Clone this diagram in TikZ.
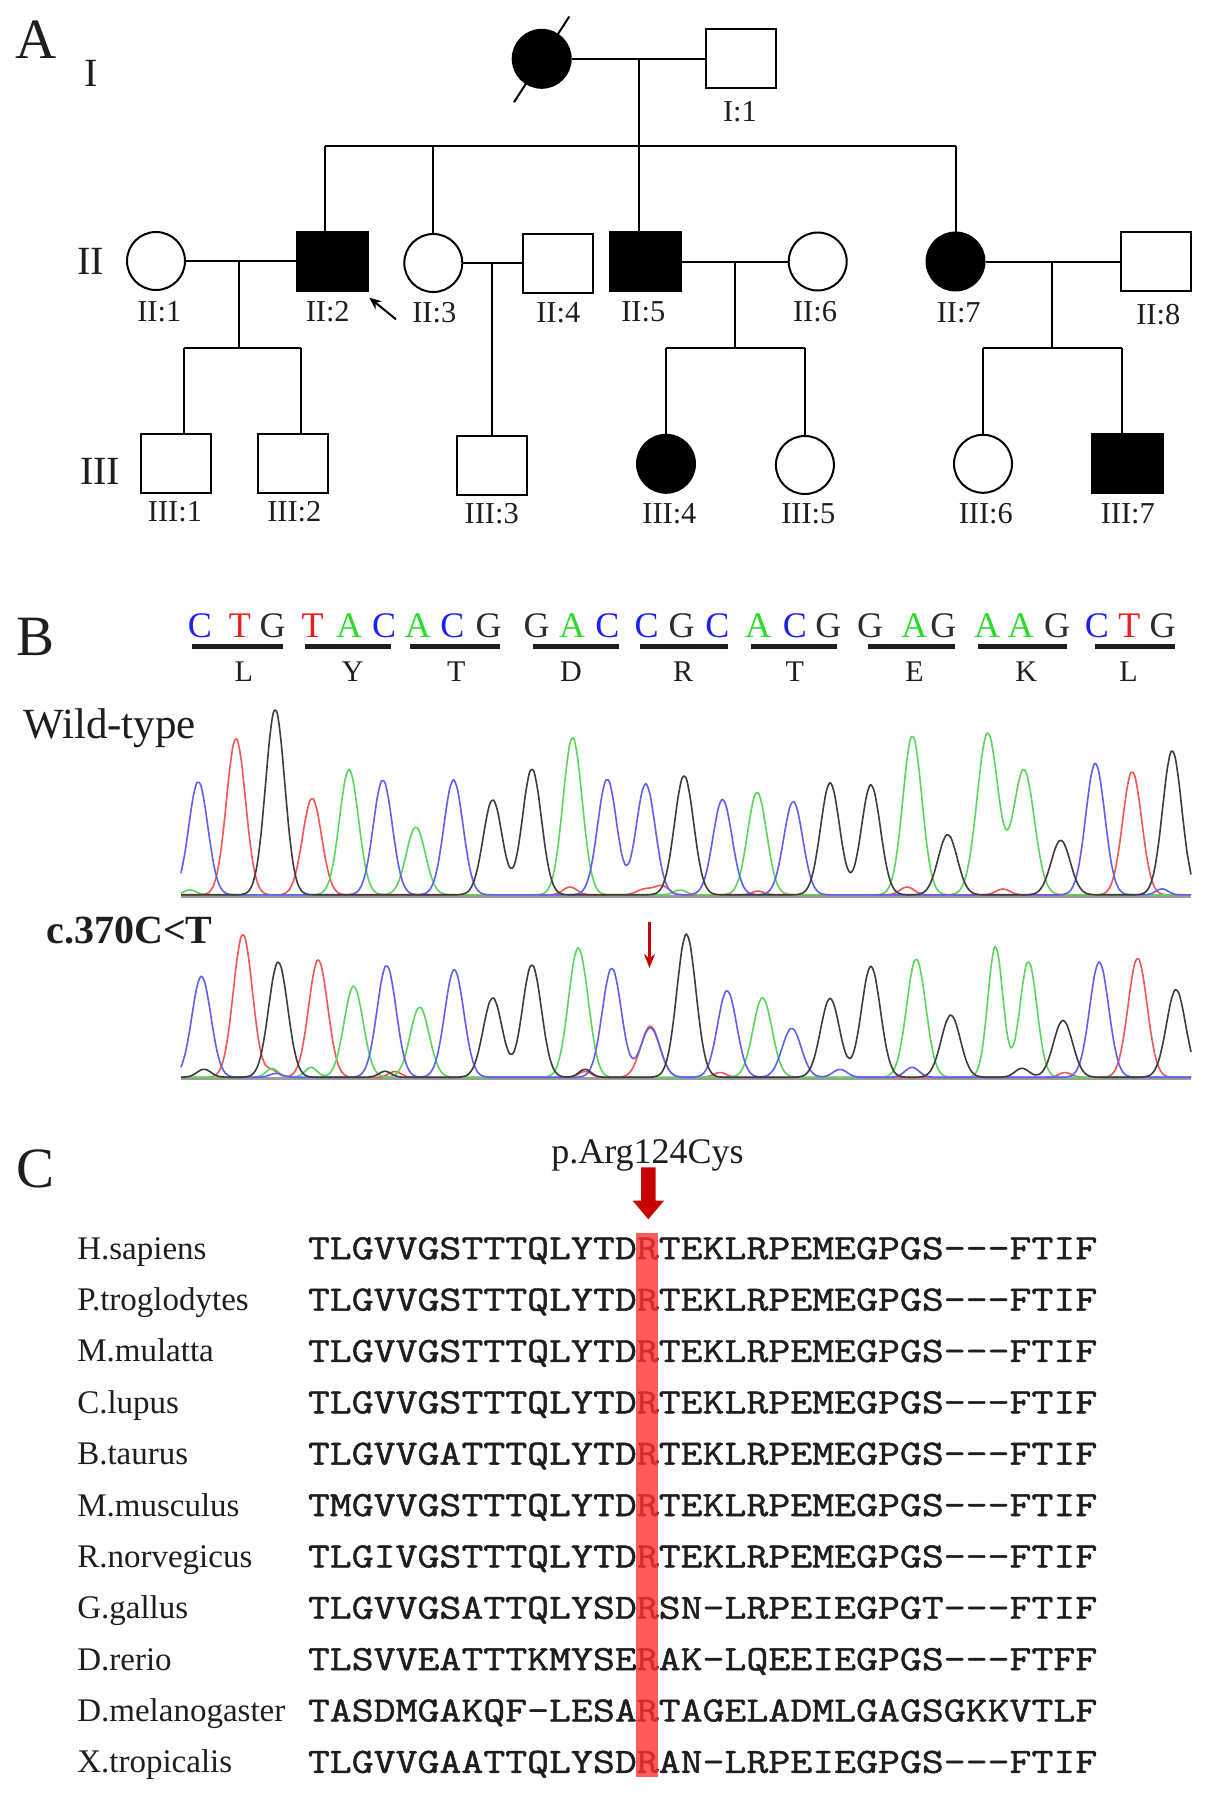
\documentclass[tikz,border=0pt]{standalone}
\usepackage{fontspec}
\setmainfont{Liberation Serif}
\setmonofont[FakeStretch=1.2,FakeBold=1.3]{Latin Modern Mono}
\usetikzlibrary{arrows.meta,calc}
\definecolor{tB}{RGB}{95,95,245}
\definecolor{tR}{RGB}{245,85,85}
\definecolor{tG}{RGB}{90,215,90}
\definecolor{tK}{RGB}{60,60,60}
\definecolor{nB}{RGB}{30,30,255}
\definecolor{nR}{RGB}{235,30,30}
\definecolor{nG}{RGB}{40,220,40}
\definecolor{nK}{RGB}{45,45,45}
\definecolor{darkred}{RGB}{200,0,0}
\definecolor{hl}{RGB}{255,50,50}
\definecolor{txt}{RGB}{30,30,30}
\pgfmathdeclarefunction{gp}{4}{%
  \begingroup
  \pgfmathparse{min(abs(#1-#2),4*#4)/#4}%
  \pgfmathparse{#3*exp(-0.5*\pgfmathresult*\pgfmathresult)}%
  \pgfmathsmuggle\pgfmathresult
  \endgroup}
\newcommand\pk[2]{-gp(\x,#1,#2,9.5)}
\newcommand\pks[3]{-gp(\x,#1,#2,#3)}
\newcommand\chromtrace[3]{\draw[trace,#1] plot[smooth,domain=181:1191,samples=253] (\x,{#2#3});}
\begin{document}
\begin{tikzpicture}[x=0.5pt,y=-0.5pt,
  ped/.style={line width=1pt},
  msq/.style={draw,line width=1pt,rectangle,minimum width=35pt,minimum height=29.5pt,inner sep=0pt},
  fci/.style={draw,line width=1pt,circle,minimum size=29pt,inner sep=0pt},
  aff/.style={fill=black},
  plab/.style={font=\fontsize{15.2pt}{17pt}\selectfont,text=txt,inner sep=0pt},
  glab/.style={font=\fontsize{20pt}{22pt}\selectfont,text=txt,inner sep=0pt},
  panel/.style={font=\fontsize{28.5pt}{30pt}\selectfont,text=txt,inner sep=0pt,anchor=base west},
  nuc/.style={font=\fontsize{18pt}{20pt}\selectfont,inner sep=0pt,anchor=base},
  amino/.style={font=\fontsize{15pt}{17pt}\selectfont,text=txt,inner sep=0pt,anchor=base},
  bar/.style={line width=2.5pt,txt},
  trace/.style={line width=0.8pt,line join=round},
  spec/.style={font=\fontsize{16.5pt}{18pt}\selectfont,text=txt,inner sep=0pt,anchor=base west},
  seq/.style={font=\ttfamily\fontsize{17.74pt}{20pt}\selectfont,text=txt,inner sep=0pt,anchor=base west},
  rowlab/.style={font=\fontsize{21.5pt}{23pt}\selectfont,text=txt,inner sep=0pt,anchor=base west}
]
\useasboundingbox (0,0) rectangle (1205,1798);
\fill[white] (0,0) rectangle (1205,1798);

% ---------------- Panel A ----------------
\node[panel] (pA) at (15,59) {A};
\node[glab] (gI) at (90.7,73) {I};
\node[glab] (gII) at (90.7,261.8) {II};
\node[glab] (gIII) at (100,471) {III};

\node[fci,aff] (I2) at (541.7,58.8) {};
\node[msq] (I1) at (741.3,58.8) {};
\draw[ped] (I2.center) ++(-27.7,43.4) -- ++(55.3,-85.7);
\draw[ped] (I2.east) -- (I1.west);
\coordinate (m1) at (639,58.8);
\coordinate (s1) at (639,145.5);
\coordinate (sL) at (325,145.5);
\coordinate (sR) at (955.5,145.5);
\coordinate (s3) at (433.3,145.5);
\draw[ped] (m1) -- (s1);
\draw[ped] (sL) -- (sR);

\node[fci] (II1) at (156,261) {};
\node[msq,aff,minimum width=35.8pt] (II2) at (332.5,261.2) {};
\node[fci] (II3) at (433.3,263) {};
\node[msq] (II4) at (557.7,263.3) {};
\node[msq,aff,minimum width=35.5pt] (II5) at (645.5,261.2) {};
\node[fci] (II6) at (817.7,261.5) {};
\node[fci,aff] (II7) at (955.5,261.5) {};
\node[msq] (II8) at (1155.7,261.2) {};

\draw[ped] (sL) -- (sL |- II2.north);
\draw[ped] (s3) -- (II3.north);
\draw[ped] (s1) -- (s1 |- II5.north);
\draw[ped] (sR) -- (II7.north);

\node[msq] (III1) at (176.3,463.3) {};
\node[msq] (III2) at (293.3,463.3) {};
\node[msq] (III3) at (491.7,465.3) {};
\node[fci,aff] (III4) at (666,463.8) {};
\node[fci] (III5) at (804.9,465) {};
\node[fci] (III6) at (983,463.8) {};
\node[msq,aff,minimum width=35.7pt] (III7) at (1127.6,463.3) {};

% family II:1 x II:2
\draw[ped] (II1.east) -- (II1.east -| II2.west);
\coordinate (d1) at (239.3,261);
\coordinate (e1) at (239.3,348.2);
\coordinate (f1) at (184,348.2);
\coordinate (g1) at (300.7,348.2);
\draw[ped] (d1) -- (e1);
\draw[ped] (f1) -- (g1);
\draw[ped] (f1) -- (f1 |- III1.north);
\draw[ped] (g1) -- (g1 |- III2.north);
% family II:3 x II:4
\draw[ped] (II3.east) -- (II3.east -| II4.west);
\coordinate (d2) at (491.7,263);
\draw[ped] (d2) -- (d2 |- III3.north);
% family II:5 x II:6
\draw[ped] (II5.east |- II6.west) -- (II6.west);
\coordinate (d3) at (735,261.5);
\coordinate (e3) at (735,348.2);
\coordinate (f3) at (666,348.2);
\coordinate (g3) at (804.9,348.2);
\draw[ped] (d3) -- (e3);
\draw[ped] (f3) -- (g3);
\draw[ped] (f3) -- (III4.north);
\draw[ped] (g3) -- (III5.north);
% family II:7 x II:8
\draw[ped] (II7.east) -- (II7.east -| II8.west);
\coordinate (d4) at (1052.3,261.5);
\coordinate (e4) at (1052.3,348.2);
\coordinate (f4) at (983,348.2);
\coordinate (g4) at (1121.6,348.2);
\draw[ped] (d4) -- (e4);
\draw[ped] (f4) -- (g4);
\draw[ped] (f4) -- (III6.north);
\draw[ped] (g4) -- (g4 |- III7.north);

% proband arrow
\coordinate (pa0) at ($(II2.south east)+(26.7,27.6)$);
\coordinate (pa1) at ($(II2.south east)+(0,6)$);
\draw[line width=1pt,-{Stealth[length=6pt,width=5pt]}] (pa0) -- (pa1);

% labels
\node[plab] (lI1) at (740,111.7) {I:1};
\node[plab] (lII1) at (159.3,311.7) {II:1};
\node[plab] (lII2) at (327.7,311.7) {II:2};
\node[plab] (lII3) at (434.3,312.3) {II:3};
\node[plab] (lII4) at (558.3,312.3) {II:4};
\node[plab] (lII5) at (643.3,311.7) {II:5};
\node[plab] (lII6) at (815,311.7) {II:6};
\node[plab] (lII7) at (958.7,312.3) {II:7};
\node[plab] (lII8) at (1158.3,315) {II:8};
\node[plab] (lIII1) at (175,511.7) {III:1};
\node[plab] (lIII2) at (294.3,511.7) {III:2};
\node[plab] (lIII3) at (491.7,513.3) {III:3};
\node[plab] (lIII4) at (669.4,513.3) {III:4};
\node[plab] (lIII5) at (808.3,514) {III:5};
\node[plab] (lIII6) at (985.8,513.3) {III:6};
\node[plab] (lIII7) at (1127.8,513.3) {III:7};

% ---------------- Panel B ----------------
\node[panel] (pB) at (16,655) {B};
\foreach \xx/\ll/\cc [count=\i] in {199.8/C/nB,239.9/T/nR,272.5/G/nK,312.6/T/nR,349/A/nG,384.2/C/nB,
  417.9/A/nG,452.3/C/nB,488.7/G/nK,536.5/G/nK,572.1/A/nG,607.3/C/nB,646.5/C/nB,681.5/G/nK,717.4/C/nB,
  758.2/A/nG,794.8/C/nB,828.4/G/nK,870/G/nK,914.4/A/nG,943.4/G/nK,987/A/nG,1020.5/A/nG,1057.2/G/nK,
  1096.9/C/nB,1129.3/T/nR,1162.5/G/nK}
  \node[nuc,text=\cc] (nt\i) at (\xx,637.3) {\ll};
\foreach \a/\b in {192.1/283.2,305/391.1,410.2/500.2,532.7/618.8,640.2/727.6,750.5/837.3,868.1/954.9,978.1/1066.8,1094.6/1174.8}
  \draw[bar] (\a,646.7) -- (\b,646.7);
\foreach \xx/\ll [count=\i] in {243.8/L,352.8/Y,456.2/T,571/D,683/R,794.8/T,914.4/E,1026.3/K,1128.5/L}
  \node[amino] (aa\i) at (\xx,681.7) {\ll};

\node[rowlab] (wt) at (23,738.5) {Wild-type};
\node[rowlab,font=\bfseries\fontsize{20pt}{22pt}\selectfont] (mt) at (46,943.8) {c.370C<T};

% baselines
\draw[line width=1.5pt,black!38] (181,896) -- (1191,896);
\draw[line width=1.5pt,black!38] (181,1078.5) -- (1191,1078.5);

% wild-type traces
\chromtrace{tR}{895.1}{\pk{236.0}{156.6}\pk{312.1}{96.9}\pk{1132.2}{123.7}\pks{570}{8}{7}\pks{645}{6}{8}\pks{662}{9}{7}\pks{907}{8}{7}\pks{1003}{6}{7}\pks{758}{4}{6}}
\chromtrace{tG}{895.1}{\pk{349.0}{125.4}\pk{415.8}{68.0}\pk{572.6}{157.6}\pk{757.1}{102.8}\pk{912.4}{159.2}\pks{987.7}{161.9}{10.5}\pks{1023.8}{125.4}{10.5}\pks{190}{5}{6}\pks{680}{5}{6}}
\chromtrace{tB}{895.1}{\pk{198.3}{113.4}\pk{382.8}{115.1}\pk{453.5}{115.1}\pk{607.2}{116.1}\pk{645.7}{111.1}\pk{722.5}{95.5}\pk{793.2}{93.5}\pk{1095.3}{131.7}\pks{1162}{6}{6}}
\chromtrace{tK}{895.1}{\pk{275.2}{185.7}\pk{492.7}{95.2}\pk{531.9}{126.1}\pk{684.1}{119.4}\pk{830.1}{112.1}\pk{870.9}{110.1}\pk{947.7}{60.4}\pk{1060.7}{54.7}\pk{1172.2}{144.3}}

% mutant traces
\chromtrace{tR}{1077.5}{\pk{242.9}{143.3}\pk{318.2}{117.7}\pk{650.3}{51.4}\pk{1137.6}{119.4}\pks{272}{7}{6}\pks{395}{6}{6}\pks{585}{6}{6}\pks{720}{5}{6}\pks{1065}{5}{6}}
\chromtrace{tG}{1077.5}{\pk{353.6}{91.2}\pk{419.7}{70.3}\pk{578.0}{128.7}\pk{762.5}{79.6}\pk{916.2}{118.7}\pks{995.4}{131}{7.5}\pks{1028.4}{116.1}{8.5}\pks{272}{9}{6}\pks{311}{10}{6}\pks{590}{6}{6}}
\chromtrace{tB}{1077.5}{\pk{201.4}{101.1}\pk{386.6}{112.1}\pk{454.3}{107.8}\pk{611.8}{109.5}\pk{650.3}{49.7}\pk{727.1}{86.9}\pk{791.7}{49.1}\pk{1099.2}{115.4}\pks{840}{8}{7}\pks{912}{10}{7}\pks{276}{4}{6}}
\chromtrace{tK}{1077.5}{\pk{278.2}{115.4}\pk{492.7}{79.6}\pk{531.9}{112.8}\pk{686.4}{143.3}\pk{830.1}{78.9}\pk{870.9}{111.1}\pk{950.8}{62.3}\pk{1063.0}{57.0}\pk{1176.0}{87.9}\pks{204}{8}{7}\pks{385}{6}{6}\pks{585}{8}{6}\pks{1022}{9}{7}}

% mutation arrow
\coordinate (ma0) at (649.5,921.6);
\coordinate (ma1) at (649.5,968);
\draw[darkred,line width=1.3pt,-{Stealth[length=7pt,width=5.5pt]}] (ma0) -- (ma1);

% ---------------- Panel C ----------------
\node[panel] (pC) at (16,1187) {C};
\node[font=\fontsize{18pt}{20pt}\selectfont,text=txt,inner sep=0pt,anchor=base] (pmut) at (647.5,1163.3) {p.Arg124Cys};
\fill[darkred] (641,1167.3) -- (655.7,1167.3) -- (655.7,1200.7) -- (664,1200.7) -- (648.3,1219.3) -- (632.7,1200.7) -- (641,1200.7) -- cycle;

\foreach \nm/\sq [count=\i] in {
  H.sapiens/TLGVVGSTTTQLYTDRTEKLRPEMEGPGS-{}-{}-FTIF,
  P.troglodytes/TLGVVGSTTTQLYTDRTEKLRPEMEGPGS-{}-{}-FTIF,
  M.mulatta/TLGVVGSTTTQLYTDRTEKLRPEMEGPGS-{}-{}-FTIF,
  C.lupus/TLGVVGSTTTQLYTDRTEKLRPEMEGPGS-{}-{}-FTIF,
  B.taurus/TLGVVGATTTQLYTDRTEKLRPEMEGPGS-{}-{}-FTIF,
  M.musculus/TMGVVGSTTTQLYTDRTEKLRPEMEGPGS-{}-{}-FTIF,
  R.norvegicus/TLGIVGSTTTQLYTDRTEKLRPEMEGPGS-{}-{}-FTIF,
  G.gallus/TLGVVGSATTQLYSDRSN-LRPEIEGPGT-{}-{}-FTIF,
  D.rerio/TLSVVEATTTKMYSERAK-LQEEIEGPGS-{}-{}-FTFF,
  D.melanogaster/TASDMGAKQF-LESARTAGELADMLGAGSGKKVTLF,
  X.tropicalis/TLGVVGAATTQLYSDRAN-LRPEIEGPGS-{}-{}-FTIF}
{
  \pgfmathsetmacro\yy{1259.2+51.36*(\i-1)}
  \node[spec] (sp\i) at (76.9,\yy) {\nm};
  \node[seq] (sq\i) at (307.5,\yy) {\sq};
}
\fill[hl,opacity=0.8] (636,1233.3) rectangle (657.7,1777);
\end{tikzpicture}
\end{document}
